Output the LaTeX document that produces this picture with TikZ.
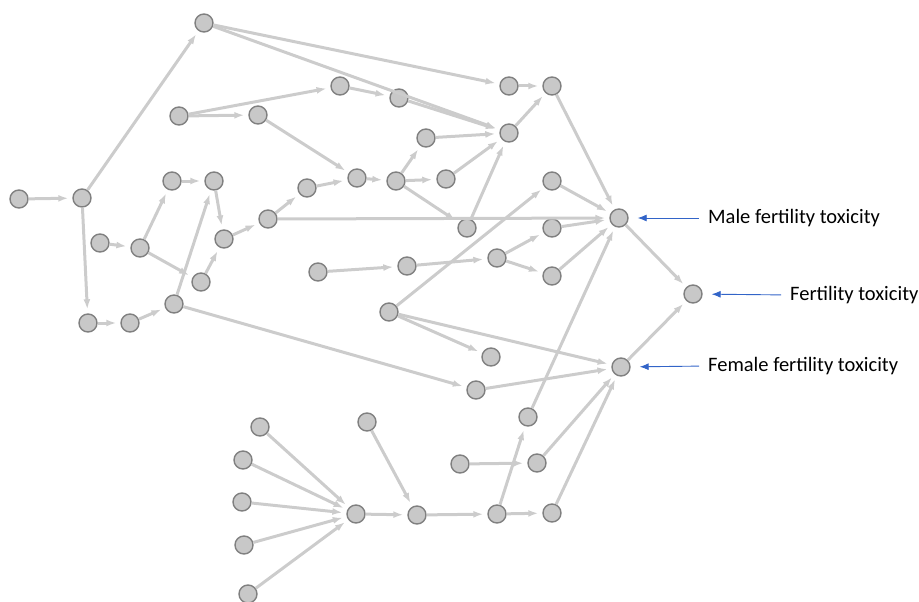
\documentclass[tikz,border=0pt]{standalone}
\usepackage{fontspec}
\setmainfont{Carlito}
\usetikzlibrary{arrows.meta}
\definecolor{linkgray}{RGB}{204,204,204}
\definecolor{nodegray}{RGB}{200,200,200}
\definecolor{rimgray}{RGB}{128,128,128}
\definecolor{pointblue}{RGB}{50,100,200}
\begin{document}
\begin{tikzpicture}[x=1pt,y=-1pt,shorten >=4pt,->,>={Latex[length=10pt,width=7pt]}]
    \tikzstyle{chem}=[circle,minimum size=18pt,inner sep=0pt,fill=nodegray,draw=rimgray,line width=1.4pt]
    \tikzstyle{link}=[draw=linkgray,line width=3pt]
    \tikzstyle{annot}=[anchor=west,font=\fontsize{20.5}{24}\selectfont,inner sep=0pt]
    \tikzstyle{pointer}=[draw=pointblue,line width=0.9pt,shorten <=9pt,shorten >=9pt,>={Latex[length=9pt,width=7pt]}]

    \useasboundingbox (0,0) rectangle (919,602);

    % Draw the endpoint nodes
    \node[chem] (MM) at (619,218) {};
    \node[chem] (FT) at (693,294) {};
    \node[chem] (FF) at (621,367) {};

    % Draw the upper nodes
    \foreach \n/\x/\y in {A/204/23, B/179/116, C/258/115, D/19/199, E/82/198,
        F/172/181, G/214/181, H/340/86, I/399/98, J/509/86, K/552/86,
        L/426/138, M/509/133, N/357/178, O/396/181, P/446/179, Q/552/181,
        R/307/188, S/100/243, T/140/248, U/224/239, V/268/219, W/201/282,
        X/174/304, Y/88/323, Z/130/323}
        \node[chem] (\n) at (\x,\y) {};

    % Draw the middle nodes
    \foreach \n/\x/\y in {AA/318/272, AB/467/228, AC/552/228, AD/407/266,
        AE/497/258, AF/552/276, AG/389/312, AH/491/357, AI/476/390}
        \node[chem] (\n) at (\x,\y) {};

    % Draw the lower nodes
    \foreach \n/\x/\y in {AK/528/417, AL/260/427, AM/367/422, AN/243/460,
        AO/460/464, AP/537/463, AQ/242/502, AR/356/514, AS/417/515,
        AT/497/514, AU/552/513, AV/244/545, AW/248/594}
        \node[chem] (\n) at (\x,\y) {};

    % Connect the upper nodes
    \foreach \s/\d in {D/E, E/A, E/Y, A/J, A/M, B/H, B/C, H/I, I/M, J/K,
        M/K, C/N, R/N, N/O, O/L, O/P, O/AB, L/M, P/M, AB/M, V/R, U/V,
        G/U, F/G, T/F, S/T, T/W, W/U, X/G, Y/Z, Z/X, X/AI}
        \draw[link] (\s) -- (\d);

    % Connect the middle nodes
    \foreach \s/\d in {AE/AC, AE/AF, AD/AE, AA/AD, AG/Q, AG/AH, AG/FF, AI/FF}
        \draw[link] (\s) -- (\d);

    % Connect the lower nodes
    \foreach \s in {AL,AN,AQ,AV,AW}
        \draw[link] (\s) -- (AR);
    \foreach \s/\d in {AR/AS, AM/AS, AS/AT, AT/AU, AT/AK, AO/AP}
        \draw[link] (\s) -- (\d);

    % Connect everything into the endpoints
    \foreach \s in {K,V,Q,AC,AF,AK}
        \draw[link] (\s) -- (MM);
    \foreach \s in {AP,AU}
        \draw[link] (\s) -- (FF);
    \draw[link] (MM) -- (FT);
    \draw[link] (FF) -- (FT);

    % Labels
    \node[annot] (lblM) at (708,218) {Male fertility toxicity};
    \node[annot] (lblT) at (790,295) {Fertility toxicity};
    \node[annot] (lblF) at (708,366) {Female fertility toxicity};
    \draw[pointer] (lblM.west) -- (MM);
    \draw[pointer] (lblT.west) -- (FT);
    \draw[pointer] (lblF.west) -- (FF);
\end{tikzpicture}
\end{document}
